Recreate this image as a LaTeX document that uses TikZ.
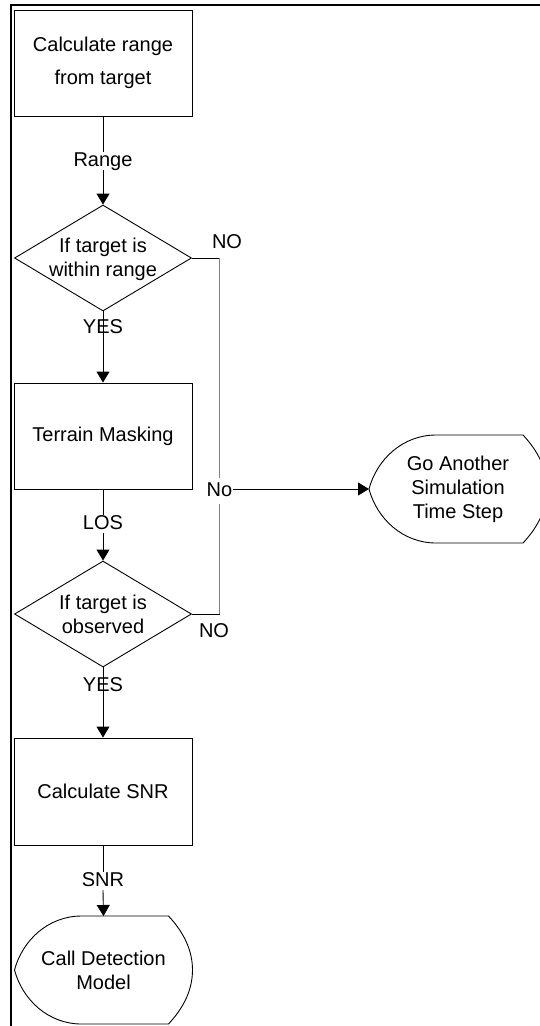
\documentclass[tikz,border=0pt]{standalone}
\usepackage{fontspec}
\setmainfont{Liberation Sans}
\usetikzlibrary{arrows.meta,shapes.geometric}

\tikzset{
  flowline/.style={line width=0.9pt, draw=black},
  arrowline/.style={flowline, -{Triangle[width=13pt,length=11pt]}},
  procbox/.style={draw, line width=0.9pt, minimum width=178pt, minimum height=106pt,
                  inner sep=0pt, align=center},
  decision/.style={draw, diamond, line width=0.9pt, minimum width=177pt,
                   minimum height=106pt, inner sep=0pt},
  flowlabel/.style={inner xsep=2pt, inner ysep=0pt, text height=14pt, text depth=4pt},
  nolabel/.style={inner xsep=0.5pt, inner ysep=4pt, text height=14pt, text depth=4pt},
  txt/.style={align=center, inner sep=0pt},
  outline/.style={line width=0.9pt, draw=black},
}

% outline of a "display" terminator around the centre of a text node
\newcommand{\displayoutline}[2]{%
  \begin{scope}[shift={(#1.center)}]
    \draw[outline] (-22,-54) -- (65,-54)
      .. controls (80,-38) and (89,-20) .. (89,0)
      .. controls (89,20) and (80,38) .. (65,54)
      -- (-22,54)
      .. controls (-55,54) and (-81,30) .. (-89,0)
      .. controls (-81,-30) and (-55,-54) .. (-22,-54) -- cycle;
    \coordinate (#2-n) at (0,-54);
    \coordinate (#2-w) at (-89,0);
  \end{scope}}

\begin{document}
\begin{tikzpicture}[x=1pt, y=-1pt, every node/.style={font=\fontsize{20}{24}\selectfont}]
  \clip (0,0) rectangle (540,1026);

  % page frame
  \draw[line width=2pt] (11,1032) -- (11,5) -- (546,5);

  % process steps
  \node[procbox] (calc) at (103,63) {Calculate range\\[9pt]from target};
  \node[decision] (inrange) at (103,258) {};
  \node[txt] (inrangeT) at (103,259) {If target is\\within range};
  \node[procbox] (terrain) at (103,436) {Terrain Masking};
  \node[decision] (observed) at (103,614) {};
  \node[txt] (observedT) at (103,614) {If target is\\observed};
  \node[procbox, minimum height=107pt] (snr) at (103,791.5) {Calculate SNR};

  % terminators
  \node[txt] (callT) at (103.5,970) {Call Detection\\Model};
  \displayoutline{callT}{call}
  \node[txt] (goT) at (458,489) {Go Another\\Simulation\\Time Step};
  \displayoutline{goT}{go}

  % connector labels
  \node[flowlabel] (lRange) at (103,161) {Range};
  \node[flowlabel] (lYes1) at (103,328) {YES};
  \node[flowlabel] (lLOS) at (103,524) {LOS};
  \node[flowlabel] (lYes2) at (103,686) {YES};
  \node[flowlabel] (lSNR) at (103,881) {SNR};
  \node[flowlabel] (lNo1) at (227,243) {NO};
  \node[flowlabel] (lNo2) at (214,632) {NO};
  \node[nolabel] (lNo) at (219.5,491) {No};

  % main flow
  \draw[flowline] (calc.south) -- (lRange.north);
  \draw[arrowline] (lRange.south) -- (inrange.north);
  \draw[arrowline] (inrange.south) -- (terrain.north);
  \draw[flowline] (terrain.south) -- (lLOS.north);
  \draw[arrowline] (lLOS.south) -- (observed.north);
  \draw[arrowline] (observed.south) -- (snr.north);
  \draw[flowline] (snr.south) -- (lSNR.north);
  \draw[arrowline] (lSNR.south) -- (call-n);

  % negative branches
  \draw[flowline] (inrange.east) -- (inrange.east -| lNo.center);
  \draw[flowline, draw=gray] (inrange.east -| lNo.center) -- (lNo.north);
  \draw[flowline, draw=gray] (lNo.south) -- (observed.east -| lNo.center);
  \draw[flowline] (observed.east -| lNo.center) -- (observed.east);
  \draw[arrowline] (lNo.east |- go-w) -- (go-w);
\end{tikzpicture}
\end{document}
